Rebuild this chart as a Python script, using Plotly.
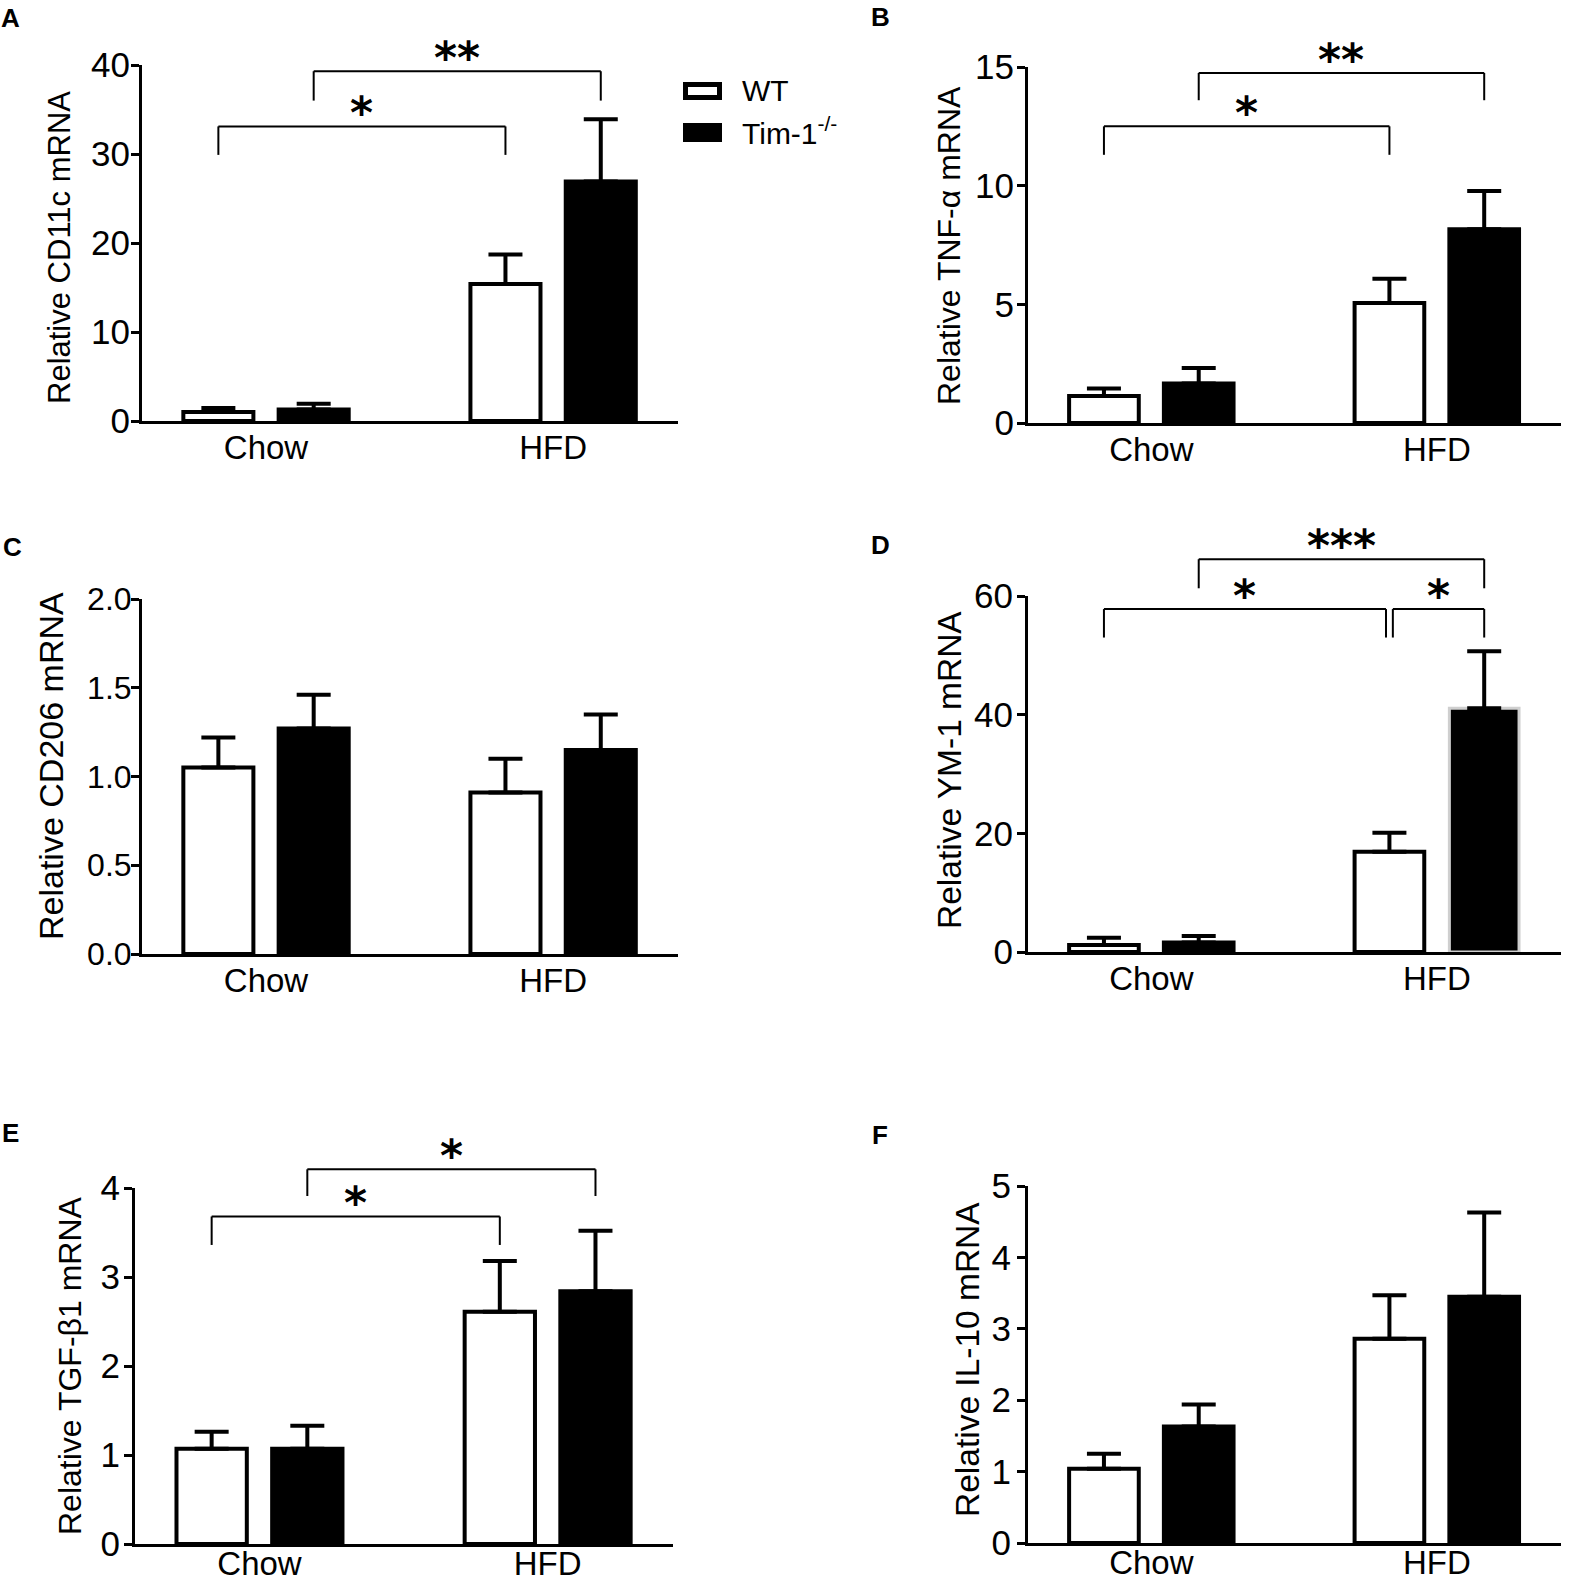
import plotly.graph_objects as go

W, H = 1569, 1583

# ---------------- data ----------------
categories = ["Chow", "HFD"]
series_names = ["WT", "Tim-1<sup>-/-</sup>"]

cd11c_wt = [1.0, 15.4]
cd11c_wt_err = [0.46, 3.3]
cd11c_ko = [1.3, 26.9]
cd11c_ko_err = [0.64, 7.0]

tnf_wt = [1.14, 5.06]
tnf_wt_err = [0.31, 1.02]
tnf_ko = [1.66, 8.16]
tnf_ko_err = [0.66, 1.62]

cd206_wt = [1.05, 0.91]
cd206_wt_err = [0.17, 0.19]
cd206_ko = [1.27, 1.15]
cd206_ko_err = [0.19, 0.20]

ym1_wt = [1.2, 16.9]
ym1_wt_err = [1.2, 3.2]
ym1_ko = [1.6, 41.1]
ym1_ko_err = [1.1, 9.6]

tgf_wt = [1.07, 2.61]
tgf_wt_err = [0.19, 0.57]
tgf_ko = [1.07, 2.84]
tgf_ko_err = [0.26, 0.68]

il10_wt = [1.04, 2.86]
il10_wt_err = [0.21, 0.61]
il10_ko = [1.63, 3.45]
il10_ko_err = [0.31, 1.18]

# significance brackets: (cat_left, series_left, cat_right, series_right, bar_y, leg_end_y, label)
brackets_a = [(0, 0, 1, 0, 33.1, 29.9, "*"), (0, 1, 1, 1, 39.3, 36.0, "**")]
brackets_b = [(0, 0, 1, 0, 12.5, 11.3, "*"), (0, 1, 1, 1, 14.75, 13.6, "**")]
brackets_c = []
brackets_d = [(0, 0, 1, 0, 57.8, 53.0, "*"), (1, 0, 1, 1, 57.8, 53.0, "*"),
              (0, 1, 1, 1, 66.2, 61.3, "***")]
brackets_e = [(0, 0, 1, 0, 3.68, 3.36, "*"), (0, 1, 1, 1, 4.21, 3.91, "*")]
brackets_f = []

# ---------------- panel config ----------------
panels = [
    dict(letter="A", title="Relative CD11c mRNA", ymax=40, dtick=10, fmt="d",
         wt=cd11c_wt, wte=cd11c_wt_err, ko=cd11c_ko, koe=cd11c_ko_err, br=brackets_a,
         box=(142, 678, 65, 421), tx=59, ty=248, tsz=31, lx=10, ly=18,
         tfs=35, tso=-6, xso=-5),
    dict(letter="B", title="Relative TNF-α mRNA", ymax=15, dtick=5, fmt="d",
         wt=tnf_wt, wte=tnf_wt_err, ko=tnf_ko, koe=tnf_ko_err, br=brackets_b,
         box=(1028, 1561, 67, 423), tx=949, ty=245, tsz=32, lx=880, ly=17,
         tfs=35, tso=-4, xso=-5),
    dict(letter="C", title="Relative CD206 mRNA", ymax=2.0, dtick=0.5, fmt=".1f",
         wt=cd206_wt, wte=cd206_wt_err, ko=cd206_ko, koe=cd206_ko_err, br=brackets_c,
         box=(142, 678, 599, 954), tx=51, ty=766, tsz=34, lx=12, ly=547,
         tfs=32, tso=-7, xso=-5),
    dict(letter="D", title="Relative YM-1 mRNA", ymax=60, dtick=20, fmt="d",
         wt=ym1_wt, wte=ym1_wt_err, ko=ym1_ko, koe=ym1_ko_err, br=brackets_d,
         box=(1028, 1561, 596, 952), tx=950, ty=770, tsz=33.5, lx=880, ly=545,
         tfs=35, tso=-3, xso=-5),
    dict(letter="E", title="Relative TGF-β1 mRNA", ymax=4, dtick=1, fmt="d",
         wt=tgf_wt, wte=tgf_wt_err, ko=tgf_ko, koe=tgf_ko_err, br=brackets_e,
         box=(135, 673, 1188, 1544), tx=70, ty=1366, tsz=32, lx=10, ly=1133,
         tfs=35, tso=-3, xso=-12),
    dict(letter="F", title="Relative IL-10 mRNA", ymax=5, dtick=1, fmt="d",
         wt=il10_wt, wte=il10_wt_err, ko=il10_ko, koe=il10_ko_err, br=brackets_f,
         box=(1028, 1561, 1186, 1543), tx=967, ty=1360, tsz=33.5, lx=880, ly=1135,
         tfs=35, tso=-1, xso=-12),
]

BARGAP = 0.336
BARGROUPGAP = 0.265
XR = [-0.432, 1.435]
OFF = (1 - BARGAP) / 4.0

FONT = "Arial, Liberation Sans, Helvetica, sans-serif"
STAR_FONT = "DejaVu Sans, sans-serif"

fig = go.Figure()
shapes = []
annotations = []


def px2x(px):
    return px / W


def px2y(py):
    return 1 - py / H


for i, p in enumerate(panels, start=1):
    xa = "x" if i == 1 else f"x{i}"
    ya = "y" if i == 1 else f"y{i}"
    x0, x1, yt, yb = p["box"]

    ko_line_col = ["black", "black"]
    ko_line_w = [4, 4]
    if p["letter"] == "D":
        ko_line_col = ["black", "#cfcfcf"]
        ko_line_w = [4, 3]

    fig.add_trace(go.Bar(
        x=categories, y=p["wt"], name=series_names[0], xaxis=xa, yaxis=ya,
        marker=dict(color="white", line=dict(color="black", width=4)),
        error_y=dict(type="data", symmetric=False, array=p["wte"], arrayminus=[0, 0],
                     color="black", thickness=4, width=17),
        offsetgroup="wt", showlegend=False))
    fig.add_trace(go.Bar(
        x=categories, y=p["ko"], name=series_names[1], xaxis=xa, yaxis=ya,
        marker=dict(color="black", line=dict(color=ko_line_col, width=ko_line_w)),
        error_y=dict(type="data", symmetric=False, array=p["koe"], arrayminus=[0, 0],
                     color="black", thickness=4, width=17),
        offsetgroup="ko", showlegend=False))

    xkey = "xaxis" if i == 1 else f"xaxis{i}"
    ykey = "yaxis" if i == 1 else f"yaxis{i}"
    fig.layout[xkey] = dict(
        domain=[px2x(x0), px2x(x1)], anchor=ya, type="category", range=XR,
        showline=True, linewidth=3, linecolor="black", ticks="", showgrid=False,
        zeroline=False, tickfont=dict(family=FONT, size=33, color="black"),
        ticklabelstandoff=p["xso"], fixedrange=True, automargin=False)
    tv = []
    v = 0.0
    while v <= p["ymax"] + 1e-9:
        tv.append(round(v, 6))
        v += p["dtick"]
    fig.layout[ykey] = dict(
        domain=[px2y(yb), px2y(yt)], anchor=xa, range=[0, p["ymax"]],
        tickvals=tv, tickformat=p["fmt"],
        showline=True, linewidth=3, linecolor="black", ticks="outside", ticklen=8,
        tickwidth=3, tickcolor="black", showgrid=False, zeroline=False,
        tickfont=dict(family=FONT, size=p["tfs"], color="black"),
        ticklabelstandoff=p["tso"], fixedrange=True, automargin=False)

    # axis title
    annotations.append(dict(
        text=p["title"], x=px2x(p["tx"]), y=px2y(p["ty"]), xref="paper", yref="paper",
        textangle=-90, showarrow=False, xanchor="center", yanchor="middle",
        font=dict(family=FONT, size=p["tsz"], color="black")))
    # panel letter
    annotations.append(dict(
        text=f"<b>{p['letter']}</b>", x=px2x(p["lx"]), y=px2y(p["ly"]), xref="paper",
        yref="paper", showarrow=False, xanchor="center", yanchor="middle",
        font=dict(family=FONT, size=26, color="black")))

    # significance brackets in axis-domain coordinates
    xd = f"{xa} domain"
    yd = f"{ya} domain"

    def xf(cat, ser, nudge=0.0):
        xv = cat + (-OFF if ser == 0 else OFF) + nudge
        return (xv - XR[0]) / (XR[1] - XR[0])

    for (c0, s0, c1, s1, yb_, yl_, lab) in p["br"]:
        n0 = 0.012 if (c0 == 1 and s0 == 0) else 0.0
        n1 = -0.012 if (c1 == 1 and s1 == 0 and p["letter"] == "D") else 0.0
        xa0 = xf(c0, s0, n0)
        xa1 = xf(c1, s1, n1)
        yb_f = yb_ / p["ymax"]
        yl_f = yl_ / p["ymax"]
        line = dict(color="black", width=2)
        shapes.append(dict(type="line", xref=xd, yref=yd, x0=xa0, x1=xa1, y0=yb_f, y1=yb_f, line=line))
        shapes.append(dict(type="line", xref=xd, yref=yd, x0=xa0, x1=xa0, y0=yb_f, y1=yl_f, line=line))
        shapes.append(dict(type="line", xref=xd, yref=yd, x0=xa1, x1=xa1, y0=yb_f, y1=yl_f, line=line))
        annotations.append(dict(
            text=f"<b>{lab}</b>", x=(xa0 + xa1) / 2, y=yb_f, xref=xd, yref=yd, showarrow=False,
            xanchor="center", yanchor="bottom", yshift=-14,
            font=dict(family=STAR_FONT, size=44, color="black")))

# legend (panel A)
shapes.append(dict(type="rect", xref="paper", yref="paper",
                   x0=px2x(685.5), x1=px2x(719.5), y0=px2y(97.5), y1=px2y(84.5),
                   line=dict(color="black", width=5), fillcolor="white"))
shapes.append(dict(type="rect", xref="paper", yref="paper",
                   x0=px2x(683), x1=px2x(722), y0=px2y(142), y1=px2y(123),
                   line=dict(color="black", width=0), fillcolor="black"))
annotations.append(dict(text=series_names[0], x=px2x(740), y=px2y(91), xref="paper", yref="paper",
                        showarrow=False, xanchor="left", yanchor="middle",
                        font=dict(family=FONT, size=30, color="black")))
annotations.append(dict(text="Tim-1<sup>-/-</sup>", x=px2x(740), y=px2y(131), xref="paper",
                        yref="paper", showarrow=False, xanchor="left", yanchor="middle",
                        font=dict(family=FONT, size=30, color="black")))

fig.update_layout(
    width=W, height=H, margin=dict(l=0, r=0, t=0, b=0, autoexpand=False), autosize=False,
    paper_bgcolor="white", plot_bgcolor="white",
    barmode="group", bargap=BARGAP, bargroupgap=BARGROUPGAP,
    shapes=shapes, annotations=annotations, showlegend=False,
    font=dict(family=FONT, color="black"),
)

fig.write_html("out.html", config={"displayModeBar": False},
               post_script="document.body.style.margin='0';")
